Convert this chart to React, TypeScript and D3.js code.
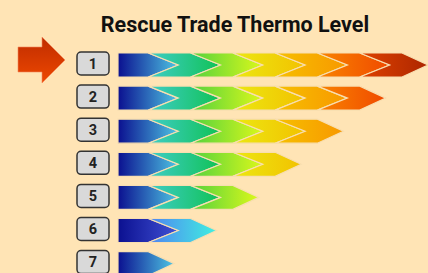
import { useEffect } from 'react';
import * as d3 from 'd3';

const levels = ['1', '2', '3', '4', '5', '6', '7'];
const segmentCounts = [7, 6, 5, 4, 3, 2, 1];

// start/end colour of each chevron segment, left to right
const mainPalette: [string, string][] = [
  ['#0b1090', '#4ec6e4'],
  ['#3fcdc8', '#10c255'],
  ['#52d23e', '#dcf81a'],
  ['#ece812', '#f2c200'],
  ['#f6c000', '#f89800'],
  ['#f98400', '#f04a00'],
  ['#de4200', '#ad2600'],
];
const level6Palette: [string, string][] = [
  ['#0b1090', '#4152d6'],
  ['#5082f2', '#40f0e0'],
];

const title = 'Rescue Trade Thermo Level';

const width = 428;
const height = 273;
const bg = '#ffe4b5';
const barStart = 118;
const notch = 30;
const tip = 26;

export default function App() {
  useEffect(() => {
    document.body.style.margin = '0';
  }, []);

  const x = d3.scaleLinear().domain([0, 7]).range([106, 402]);
  const y = d3.scaleBand().domain(levels).range([53, 275.6]).paddingInner(0.275).paddingOuter(0);
  const bh = y.bandwidth();

  const paletteFor = (i: number) => (i === 5 ? level6Palette : mainPalette);

  return (
    <svg width={width} height={height} style={{ display: 'block', background: bg }}>
      <defs>
        {levels.map((lv, i) =>
          d3.range(segmentCounts[i]).map((k) => {
            const [c0, c1] = paletteFor(i)[k];
            return (
              <linearGradient key={`g${lv}-${k}`} id={`g${lv}-${k}`} x1="0" x2="1" y1="0" y2="0">
                <stop offset="0" stopColor={c0} />
                <stop offset="1" stopColor={c1} />
              </linearGradient>
            );
          })
        )}
        <linearGradient id="bigArrow" x1="0" x2="0" y1="0" y2="1">
          <stop offset="0" stopColor="#bf2c00" />
          <stop offset="1" stopColor="#ee4800" />
        </linearGradient>
      </defs>

      <text
        x={235}
        y={32}
        textAnchor="middle"
        fontFamily="Roboto, sans-serif"
        fontWeight="bold"
        fontSize={21.5}
        fill="#111"
      >
        {title}
      </text>

      {/* pointer arrow at level 1 */}
      <polygon
        points="18,47 42,47 42,37 65,60 42,83 42,72 18,72"
        fill="url(#bigArrow)"
        stroke="#f4875a"
        strokeWidth={0.6}
      />

      {levels.map((lv, i) => {
        const top = y(lv)!;
        const mid = top + bh / 2;
        const bottom = top + bh;
        const n = segmentCounts[i];
        return (
          <g key={lv}>
            <rect
              x={77}
              y={mid - 13}
              width={32}
              height={23}
              rx={4}
              fill="#d9d9d9"
              stroke="#333"
              strokeWidth={1.5}
            />
            <text
              x={93}
              y={mid - 1.5}
              dy="0.36em"
              textAnchor="middle"
              fontFamily="Roboto, sans-serif"
              fontWeight="bold"
              fontSize={14.5}
              fill="#222"
            >
              {lv}
            </text>
            {d3.range(n).map((k) => {
              const left = k === 0 ? barStart : x(k);
              const right = x(k + 1);
              const d = k === n - 1 ? tip : notch;
              const pts = [
                [left, top],
                [right, top],
                [right + d, mid],
                [right, bottom],
                [left, bottom],
                [k === 0 ? left : left + notch, mid],
              ];
              return (
                <polygon
                  key={k}
                  points={pts.map((p) => p.join(',')).join(' ')}
                  fill={`url(#g${lv}-${k})`}
                  stroke="#f8deb0"
                  strokeWidth={1.2}
                  strokeLinejoin="miter"
                />
              );
            })}
          </g>
        );
      })}
    </svg>
  );
}
